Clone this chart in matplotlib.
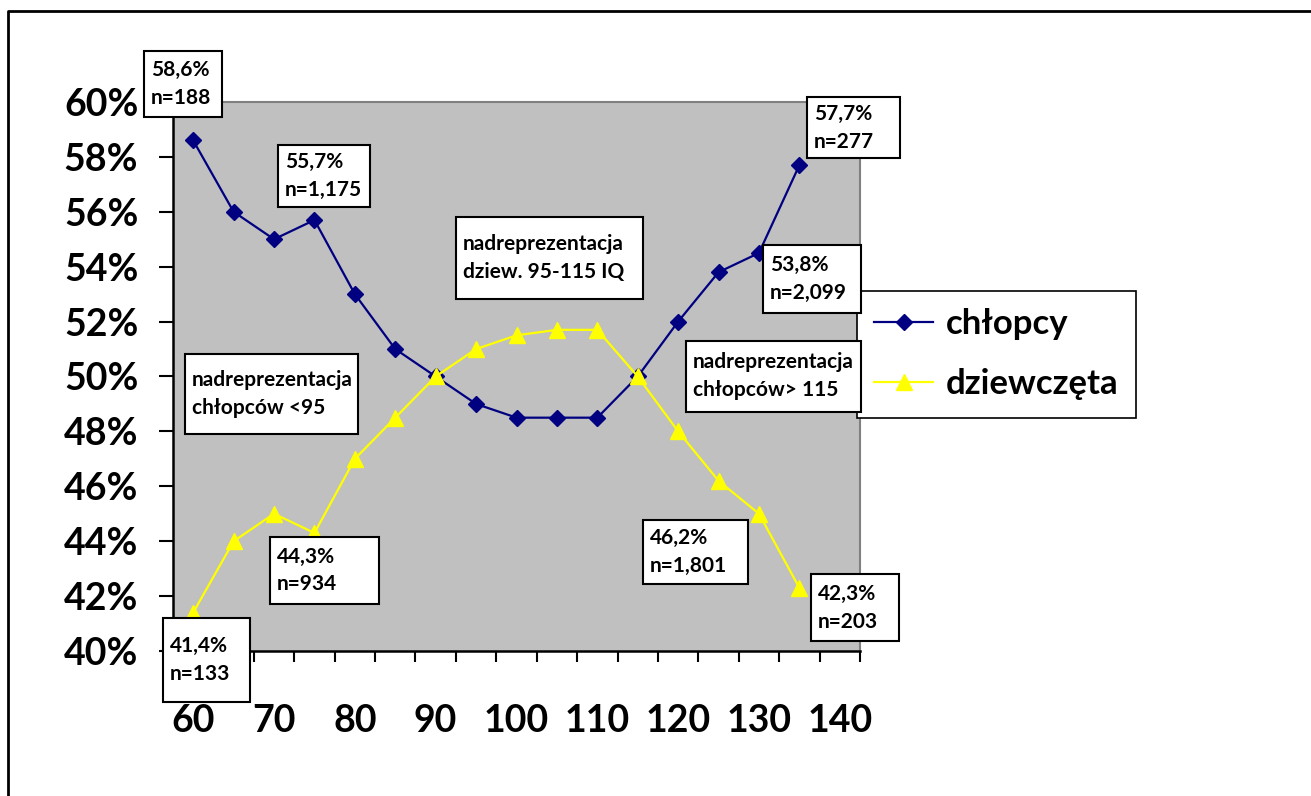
import matplotlib
matplotlib.use("Agg")
import matplotlib.pyplot as plt
from matplotlib.patches import Rectangle
from matplotlib.lines import Line2D
from matplotlib.ticker import FixedLocator, NullFormatter

# ---- data ----
iq = [60, 65, 70, 75, 80, 85, 90, 95, 100, 105, 110, 115, 120, 125, 130, 135]
chlopcy = [58.6, 56.0, 55.0, 55.7, 53.0, 51.0, 50.0, 49.0, 48.5, 48.5, 48.5, 50.0, 52.0, 53.8, 54.5, 57.7]
dziewczeta = [41.4, 44.0, 45.0, 44.3, 47.0, 48.5, 50.0, 51.0, 51.5, 51.7, 51.7, 50.0, 48.0, 46.2, 45.0, 42.3]
x_ticklabels = [60, 70, 80, 90, 100, 110, 120, 130, 140]
y_ticks = [40, 42, 44, 46, 48, 50, 52, 54, 56, 58, 60]
series_names = ["chłopcy", "dziewczęta"]

# annotation boxes: (text, box in pixels x0, y0, x1, y1)
annotations = [
    ("58,6%\nn=188", (144, 51, 222, 117)),
    ("55,7%\nn=1,175", (278, 145, 370, 207)),
    ("nadreprezentacja\ndziew. 95-115 IQ", (456, 217, 643, 299)),
    ("57,7%\nn=277", (807, 97, 900, 158)),
    ("53,8%\nn=2,099", (763, 245, 861, 313)),
    ("nadreprezentacja\nchłopców> 115", (686, 341, 861, 412)),
    ("nadreprezentacja\nchłopców <95", (185, 354, 358, 434)),
    ("44,3%\nn=934", (270, 537, 379, 604)),
    ("46,2%\nn=1,801", (643, 520, 748, 584)),
    ("42,3%\nn=203", (811, 574, 899, 641)),
    ("41,4%\nn=133", (163, 618, 250, 702)),
]

W, H = 1311, 796
FONT = ["Lato", "DejaVu Sans"]
plt.rcParams["font.family"] = FONT


def fx(x):
    return x / W


def fy(y):
    return 1 - y / H


fig = plt.figure(figsize=(W / 100, H / 100), dpi=100)
fig.patch.set_facecolor("white")

ax = fig.add_axes([fx(173), fy(651), (860 - 173) / W, (651 - 102) / H])
ax.set_facecolor("#C0C0C0")

ax.plot(iq, chlopcy, color="#000080", lw=1.6, marker="D", ms=8,
        mfc="#000080", mec="#000080", label=series_names[0], zorder=3)
ax.plot(iq, dziewczeta, color="#FFFF00", lw=1.6, marker="^", ms=11,
        mfc="#FFFF00", mec="#FFFF00", label=series_names[1], zorder=3)

ax.set_xlim(57.5, 142.5)
ax.set_ylim(40, 60)

ax.set_xticks(x_ticklabels)
ax.set_xticklabels([str(v) for v in x_ticklabels], fontsize=27, fontweight="bold")
ax.tick_params(axis="x", which="major", length=0, pad=38)
minor = [57.5 + 5 * i for i in range(18)]
ax.xaxis.set_minor_locator(FixedLocator(minor))
ax.xaxis.set_minor_formatter(NullFormatter())
ax.tick_params(axis="x", which="minor", length=8, width=1.5, direction="out", color="black")

ax.set_yticks(y_ticks)
ax.set_yticklabels([f"{v}%" for v in y_ticks], fontsize=27, fontweight="bold")
ax.tick_params(axis="y", length=10, width=1.5, direction="out", pad=15, color="black")

for s in ["left", "bottom"]:
    ax.spines[s].set_color("black")
    ax.spines[s].set_linewidth(1.8)
for s in ["top", "right"]:
    ax.spines[s].set_color("#808080")
    ax.spines[s].set_linewidth(1.5)

leg = ax.legend(loc="upper left", bbox_to_anchor=(fx(857), fy(291)),
                bbox_transform=fig.transFigure, frameon=True, fancybox=False,
                borderaxespad=0, borderpad=0.5, handlelength=1.7,
                handletextpad=0.35, labelspacing=0.8,
                prop={"family": FONT, "weight": "bold", "size": 25})
leg.get_frame().set_edgecolor("black")
leg.get_frame().set_linewidth(1.2)
leg.get_frame().set_facecolor("white")
leg.get_frame().set_alpha(1)

for text, (x0, y0, x1, y1) in annotations:
    r = Rectangle((fx(x0), fy(y1)), (x1 - x0) / W, (y1 - y0) / H,
                  transform=fig.transFigure, facecolor="white",
                  edgecolor="black", lw=1.5, zorder=5)
    fig.add_artist(r)
    fig.text(fx(x0 + 7), fy((y0 + y1) / 2), text, ha="left", va="center",
             fontsize=15, fontweight="bold", linespacing=1.5, zorder=6,
             family=FONT)

# outer chart border (left and top visible)
fig.add_artist(Line2D([fx(7.5), fx(7.5), fx(W + 5)], [fy(H + 5), fy(10.5), fy(10.5)],
                      transform=fig.transFigure, color="black", lw=2))

fig.savefig("out.png", dpi=100)
